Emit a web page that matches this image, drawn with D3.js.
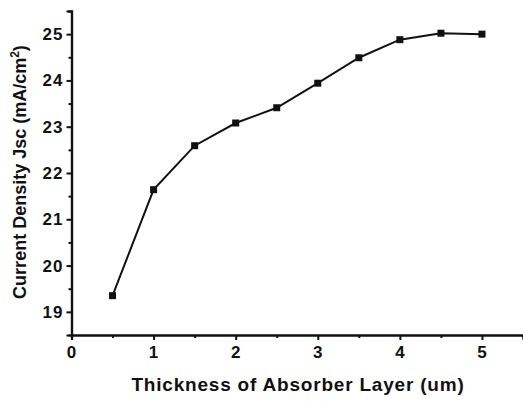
<!DOCTYPE html>
<html><head><meta charset="utf-8">
<script src="https://cdn.jsdelivr.net/npm/d3@7"></script>
<style>body{margin:0;background:#fff}svg{display:block}text{font-family:"Liberation Sans",Arial,sans-serif;font-weight:bold;fill:#111}</style>
</head><body>
<script>
const thickness = [0.5, 1, 1.5, 2, 2.5, 3, 3.5, 4, 4.5, 5];
const jsc = [19.35, 21.64, 22.59, 23.08, 23.41, 23.94, 24.49, 24.88, 25.02, 25.0];
const xTicks = [0, 1, 2, 3, 4, 5];
const yTicks = [19, 20, 21, 22, 23, 24, 25];
const xMinor = [0.5, 1.5, 2.5, 3.5, 4.5];
const yMinor = [19.5, 20.5, 21.5, 22.5, 23.5, 24.5, 25.5];

const W = 523, H = 401;
const svg = d3.select("body").append("svg").attr("width", W).attr("height", H);
const x = d3.scaleLinear().domain([0, 5.5]).range([71.5, 523]);
const y = d3.scaleLinear().domain([18.5, 25.5]).range([335, 11]);

const gx = svg.append("g").attr("transform", `translate(0,${y(18.5)})`);
gx.call(d3.axisBottom(x).tickValues(xTicks).tickFormat(d3.format("d")).tickSize(5).tickPadding(6));
gx.append("g").call(d3.axisBottom(x).tickValues(xMinor).tickFormat("").tickSize(3));
const gy = svg.append("g").attr("transform", `translate(${x(0)},0)`);
gy.call(d3.axisLeft(y).tickValues(yTicks).tickFormat(d3.format("d")).tickSize(5).tickPadding(3));
gy.append("g").call(d3.axisLeft(y).tickValues(yMinor).tickFormat("").tickSize(3));
svg.selectAll(".domain").attr("stroke", "#111").attr("stroke-width", 2.2);
svg.selectAll(".tick line").attr("stroke", "#111").attr("stroke-width", 2);
svg.selectAll(".tick text").attr("font-size", 17).attr("letter-spacing", 1)
  .attr("font-family", "Liberation Sans, Arial, sans-serif").attr("font-weight", "bold").attr("fill", "#111");

const line = d3.line().x((d, i) => x(thickness[i])).y(d => y(d));
svg.append("path").datum(jsc).attr("d", line).attr("fill", "none").attr("stroke", "#111").attr("stroke-width", 2);
svg.selectAll("rect.m").data(jsc).enter().append("rect").attr("class", "m")
  .attr("x", (d, i) => x(thickness[i]) - 3.5).attr("y", d => y(d) - 3.5)
  .attr("width", 7).attr("height", 7).attr("fill", "#111");

svg.append("text").attr("x", 298).attr("y", 391).attr("text-anchor", "middle").attr("font-size", 19)
  .attr("letter-spacing", 0.8).text("Thickness of Absorber Layer (um)");
const yt = svg.append("text").attr("transform", "translate(26,172) rotate(-90)").attr("text-anchor", "middle").attr("font-size", 18);
yt.append("tspan").text("Current Density Jsc (mA/cm");
yt.append("tspan").attr("font-size", 12).attr("dy", -7).text("2");
yt.append("tspan").attr("dy", 7).text(")");
</script>
</body></html>
